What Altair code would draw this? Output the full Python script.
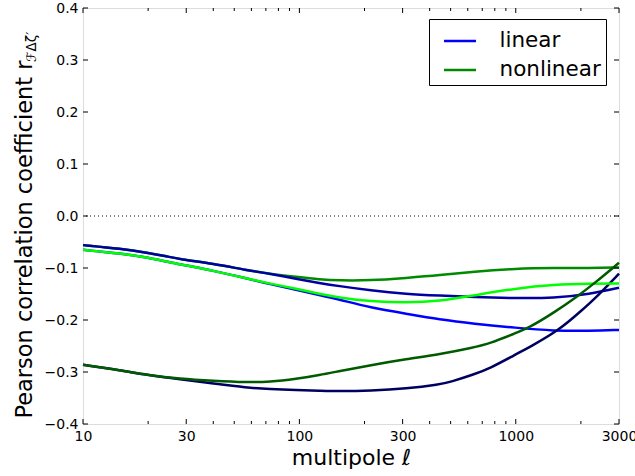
import altair as alt
import pandas as pd

# multipole grid per curve and correlation values
L_UP = [10, 15, 20, 24, 28, 40, 57, 73, 97, 124, 154, 212, 313, 445, 637, 1000, 1500, 2200, 3000]
green_up = [-0.056, -0.063, -0.071, -0.077, -0.083, -0.092, -0.104, -0.111, -0.117, -0.122, -0.124, -0.124,
            -0.119, -0.114, -0.107, -0.101, -0.100, -0.100, -0.099]
navy_up = [-0.056, -0.063, -0.071, -0.077, -0.083, -0.092, -0.104, -0.111, -0.121, -0.129, -0.135, -0.143,
           -0.150, -0.153, -0.156, -0.158, -0.158, -0.150, -0.138]

L_MID = [10, 15, 20, 28, 40, 57, 73, 97, 124, 154, 212, 313, 445, 637, 1000, 1500, 2200, 3000]
lime = [-0.065, -0.072, -0.080, -0.093, -0.105, -0.120, -0.130, -0.140, -0.150, -0.157, -0.164, -0.167,
        -0.164, -0.153, -0.139, -0.132, -0.130, -0.130]
blue = [-0.065, -0.072, -0.080, -0.093, -0.105, -0.120, -0.131, -0.142, -0.152, -0.161, -0.176, -0.188,
        -0.199, -0.207, -0.215, -0.221, -0.221, -0.219]

L_DG = [10, 15, 20, 28, 40, 57, 73, 97, 124, 154, 212, 313, 445, 637, 760, 1000, 1150, 1500, 1950, 2300, 3000]
dkgreen = [-0.286, -0.297, -0.306, -0.313, -0.317, -0.320, -0.319, -0.313, -0.306, -0.298, -0.287, -0.275,
           -0.266, -0.253, -0.245, -0.225, -0.215, -0.186, -0.153, -0.130, -0.090]

L_NV = [10, 15, 20, 28, 40, 57, 73, 97, 124, 154, 212, 313, 445, 500, 637, 760, 1000, 1150, 1580, 2000, 2400, 3000]
navy_low = [-0.286, -0.297, -0.306, -0.314, -0.322, -0.330, -0.333, -0.335, -0.336, -0.337, -0.336, -0.332,
            -0.324, -0.319, -0.305, -0.293, -0.266, -0.253, -0.220, -0.183, -0.153, -0.111]

SERIES = ["linear", "nonlinear", "linear b", "linear c", "nonlinear b", "nonlinear c"]
COLORS = ["#0000ff", "#008a00", "#0000a0", "#00005e", "#00ff00", "#005a00"]

X_MAJOR = [10, 30, 100, 300, 1000, 3000]
X_MINOR = [20, 40, 50, 60, 70, 80, 90, 200, 400, 500, 600, 700, 800, 900, 2000]
Y_TICKS = [-0.4, -0.3, -0.2, -0.1, 0.0, 0.1, 0.2, 0.3, 0.4]
Y_TITLE = "Pearson correlation coefficient r"
Y_TITLE_SUB = ["ℱΔζ′"]

W, H = 536, 416
FONT = "DejaVu Sans"

rows = []
for name, xs, ys in [("linear", L_MID, blue), ("nonlinear", L_UP, green_up),
                     ("linear b", L_UP, navy_up), ("linear c", L_NV, navy_low),
                     ("nonlinear b", L_MID, lime), ("nonlinear c", L_DG, dkgreen)]:
    for i, (x, y) in enumerate(zip(xs, ys)):
        rows.append({"series": name, "l": x, "r": y, "o": i})
df = pd.DataFrame(rows)

xscale = alt.Scale(type="log", domain=[10, 3000], nice=False)
yscale = alt.Scale(domain=[-0.4, 0.4], nice=False, zero=False)

lines = alt.Chart(df).mark_line(strokeWidth=2.5, interpolate="basis").encode(
    x=alt.X("l:Q", scale=xscale,
            axis=alt.Axis(values=X_MAJOR, format="d", title="multipole ℓ", ticks=False, domain=False,
                          grid=False, labelFontSize=14, labelPadding=5, titleFontSize=22,
                          titleFontWeight="normal", titlePadding=4, labelFont=FONT, titleFont=FONT,
                          labelColor="black", titleColor="black", labelFlush=False)),
    y=alt.Y("r:Q", scale=yscale,
            axis=alt.Axis(values=Y_TICKS, format=".1f", title=Y_TITLE,
                          ticks=False, domain=False, grid=False, labelFontSize=14, labelPadding=5,
                          titleFontSize=22.5, titleFontWeight="normal", titlePadding=8, titleY=231,
                          labelFont=FONT, titleFont=FONT, labelColor="black", titleColor="black")),
    color=alt.Color("series:N", scale=alt.Scale(domain=SERIES, range=COLORS),
                    legend=alt.Legend(values=["linear", "nonlinear"], title=None, orient="none",
                                      legendX=346, legendY=11, symbolType="stroke", symbolSize=1024,
                                      symbolStrokeWidth=2.5, labelFontSize=21.5, labelFont=FONT,
                                      labelColor="black", labelOffset=22, padding=4.5, rowPadding=1,
                                      symbolOffset=9,
                                      strokeColor="black", fillColor="white", cornerRadius=0)),
    detail="series:N",
    order="o:Q",
)

sub = alt.Chart(pd.DataFrame({"t": Y_TITLE_SUB})).mark_text(
    angle=270, fontSize=13.5, font=FONT, color="black", align="left", baseline="middle"
).encode(text="t:N", x=alt.value(-51), y=alt.value(54))

zero = alt.Chart(pd.DataFrame({"v": [0.0]})).mark_rule(color="black", strokeDash=[1, 3], strokeWidth=1).encode(
    y=alt.Y("v:Q", scale=yscale))

xmaj = pd.DataFrame({"l": X_MAJOR})
xmin = pd.DataFrame({"l": X_MINOR})
yt = pd.DataFrame({"v": Y_TICKS})

def xticks(data, length, top):
    if top:
        yv, y2v = 0, length
    else:
        yv, y2v = H, H - length
    return alt.Chart(data).mark_rule(color="black", strokeWidth=1).encode(
        x=alt.X("l:Q", scale=xscale), y=alt.value(yv), y2=alt.value(y2v))

def yticks(right):
    if right:
        xv, x2v = W, W - 5
    else:
        xv, x2v = 0, 5
    return alt.Chart(yt).mark_rule(color="black", strokeWidth=1).encode(
        y=alt.Y("v:Q", scale=yscale), x=alt.value(xv), x2=alt.value(x2v))

chart = alt.layer(
    zero, lines, sub,
    xticks(xmaj, 5, False), xticks(xmaj, 5, True),
    xticks(xmin, 3, False), xticks(xmin, 3, True),
    yticks(False), yticks(True),
).properties(
    width=W, height=H,
    autosize=alt.AutoSizeParams(type="none"),
    padding={"left": 83, "top": 8, "right": 16, "bottom": 52},
).configure_view(stroke="black", strokeWidth=1.2).configure(background="white")

chart.save("out.html", embed_options={"renderer": "svg", "actions": False})
